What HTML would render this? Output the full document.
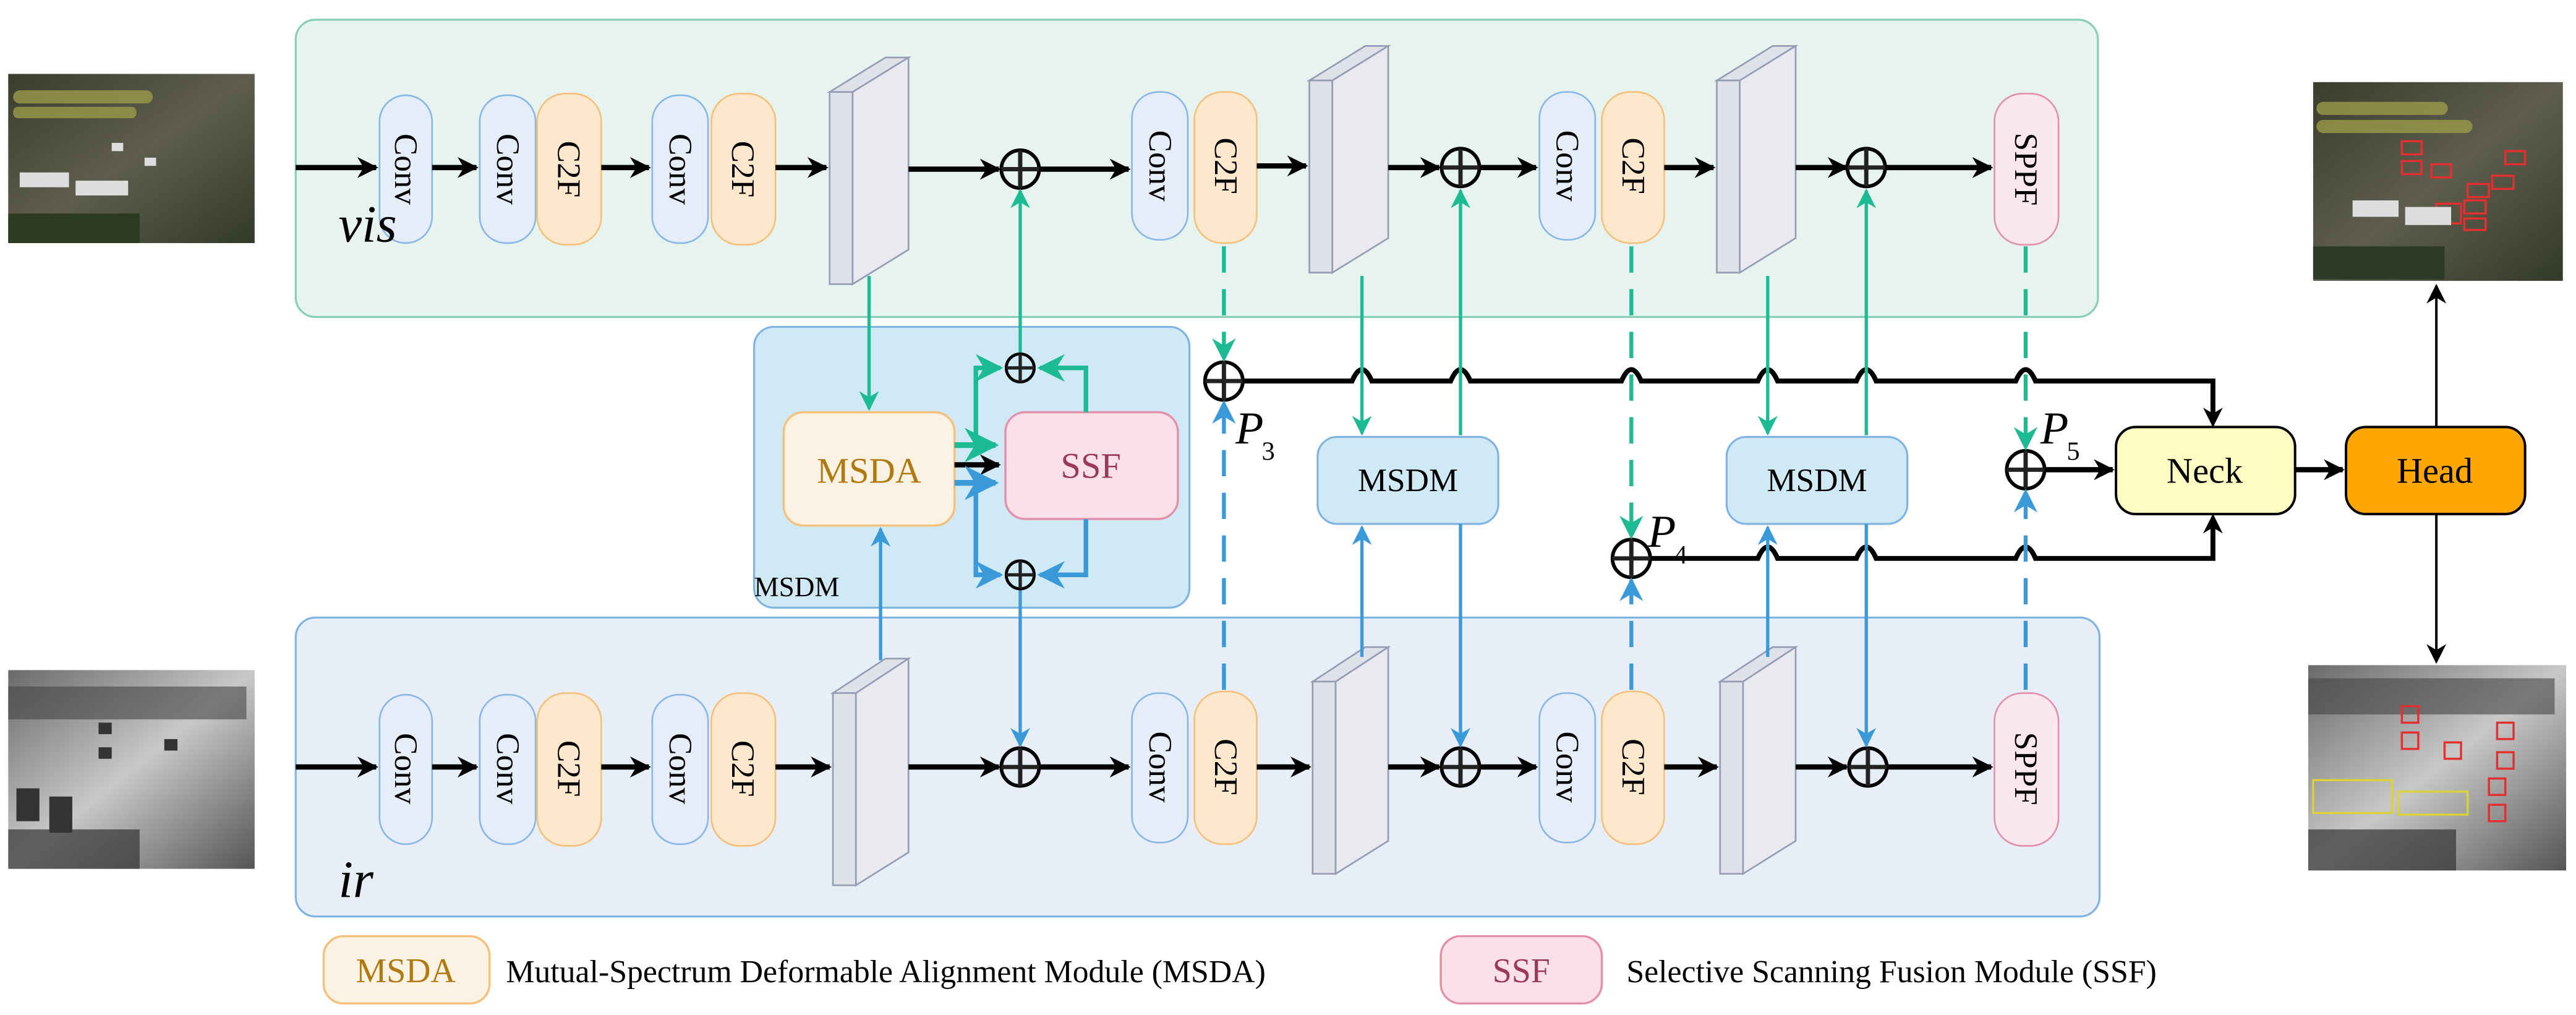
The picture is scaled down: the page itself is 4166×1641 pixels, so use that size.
<!DOCTYPE html>
<html><head><meta charset="utf-8"><style>
html,body{margin:0;padding:0;background:#fff}
svg{display:block}
</style></head><body>
<svg width="4166" height="1641" viewBox="0 0 1568 618" preserveAspectRatio="none" xmlns="http://www.w3.org/2000/svg" font-family="Liberation Serif, serif">
<defs>
<marker id="ab" viewBox="0 0 10 10" refX="9" refY="5" markerWidth="4" markerHeight="4" orient="auto" markerUnits="strokeWidth"><path d="M0,0 L10,5 L0,10 L3,5z" fill="#000"/></marker>
<marker id="abt" viewBox="0 0 10 10" refX="9" refY="5" markerWidth="8" markerHeight="8" orient="auto" markerUnits="strokeWidth"><path d="M0,0 L10,5 L0,10 L3,5z" fill="#000"/></marker>
<marker id="ag" viewBox="0 0 10 10" refX="9" refY="5" markerWidth="6" markerHeight="6" orient="auto" markerUnits="strokeWidth"><path d="M0,0 L10,5 L0,10 L3,5z" fill="#1dbb93"/></marker>
<marker id="abl" viewBox="0 0 10 10" refX="9" refY="5" markerWidth="6" markerHeight="6" orient="auto" markerUnits="strokeWidth"><path d="M0,0 L10,5 L0,10 L3,5z" fill="#3a9ad9"/></marker>
<linearGradient id="night" x1="0" y1="0" x2="1" y2="1"><stop offset="0" stop-color="#3b3c2c"/><stop offset=".5" stop-color="#5e5d4e"/><stop offset="1" stop-color="#333a28"/></linearGradient>
<linearGradient id="irg" x1="0" y1="0" x2="1" y2="1"><stop offset="0" stop-color="#6a6a6a"/><stop offset=".5" stop-color="#c8c8c8"/><stop offset="1" stop-color="#555"/></linearGradient>
<g id="oplus"><circle r="11.5" fill="none" stroke="#000" stroke-width="2.2"/><path d="M-11.5,0H11.5M0,-11.5V11.5" stroke="#222" stroke-width="2.6"/></g>
<g id="oplusS"><circle r="8.5" fill="none" stroke="#000" stroke-width="1.8"/><path d="M-8.5,0H8.5M0,-8.5V8.5" stroke="#222" stroke-width="2"/></g>
</defs>

<rect x="180" y="12" width="1097" height="181" rx="12" fill="#e6f3ef" stroke="#86cfb3" stroke-width="1.2"/>
<rect x="180" y="376" width="1098" height="182" rx="12" fill="#e7eef8" stroke="#7fb3e2" stroke-width="1.2"/>
<rect x="459" y="199" width="265" height="171" rx="12" fill="#cfe9f5" stroke="#7fb3e2" stroke-width="1.2"/>

<!-- images -->
<rect x="5" y="45" width="150" height="103" fill="url(#night)"/>
<g fill="#9b9b4a" opacity=".8"><rect x="8" y="55" width="85" height="8" rx="4"/><rect x="8" y="65" width="75" height="7" rx="3"/></g>
<g fill="#ddd"><rect x="12" y="105" width="30" height="9"/><rect x="46" y="110" width="32" height="9"/><rect x="68" y="87" width="7" height="5"/><rect x="88" y="96" width="7" height="5"/></g>
<rect x="5" y="130" width="80" height="18" fill="#2d3a22"/>
<rect x="1408" y="50" width="152" height="121" fill="url(#night)"/>
<g fill="#9b9b4a" opacity=".8"><rect x="1410" y="62" width="80" height="8" rx="4"/><rect x="1410" y="73" width="95" height="8" rx="4"/></g>
<g fill="none" stroke="#e23030" stroke-width="1.3"><rect x="1462" y="86" width="12" height="8"/><rect x="1462" y="98" width="12" height="8"/><rect x="1480" y="100" width="12" height="8"/><rect x="1517" y="107" width="13" height="8"/><rect x="1502" y="112" width="13" height="8"/><rect x="1500" y="122" width="13" height="8"/><rect x="1500" y="133" width="13" height="7"/><rect x="1525" y="92" width="12" height="8"/><rect x="1483" y="124" width="15" height="12"/></g>
<g fill="#ddd"><rect x="1432" y="122" width="28" height="10"/><rect x="1464" y="126" width="28" height="11"/></g>
<rect x="1408" y="150" width="80" height="20" fill="#2e3b24"/>
<rect x="5" y="408" width="150" height="121" fill="url(#irg)"/>
<rect x="5" y="418" width="145" height="20" fill="#444" opacity=".6"/>
<g fill="#333"><rect x="10" y="480" width="14" height="20"/><rect x="30" y="485" width="14" height="22"/><rect x="60" y="440" width="8" height="7"/><rect x="60" y="455" width="8" height="7"/><rect x="100" y="450" width="8" height="7"/></g>
<rect x="5" y="505" width="80" height="24" fill="#333" opacity=".7"/>
<rect x="1405" y="405" width="157" height="125" fill="url(#irg)"/>
<rect x="1405" y="413" width="150" height="22" fill="#444" opacity=".6"/>
<g fill="none" stroke="#e23030" stroke-width="1.3"><rect x="1462" y="430" width="10" height="10"/><rect x="1462" y="446" width="10" height="10"/><rect x="1488" y="452" width="10" height="10"/><rect x="1520" y="440" width="10" height="10"/><rect x="1520" y="458" width="10" height="10"/><rect x="1515" y="474" width="10" height="10"/><rect x="1515" y="490" width="10" height="10"/></g>
<g fill="none" stroke="#d9d23b" stroke-width="1.3"><rect x="1408" y="475" width="48" height="20"/><rect x="1460" y="482" width="42" height="14"/></g>
<rect x="1405" y="505" width="90" height="25" fill="#333" opacity=".7"/>

<g font-size="20">
<g>
<rect x="231" y="58" width="32" height="90" rx="16" fill="#e5edf8" stroke="#8ab8e6"/>
<rect x="292" y="58" width="34" height="90" rx="16" fill="#e5edf8" stroke="#8ab8e6"/>
<rect x="327" y="57" width="39" height="92" rx="17" fill="#fde8cd" stroke="#f6c07a"/>
<rect x="397" y="58" width="34" height="90" rx="16" fill="#e5edf8" stroke="#8ab8e6"/>
<rect x="433" y="57" width="39" height="92" rx="17" fill="#fde8cd" stroke="#f6c07a"/>
<rect x="689" y="56" width="34" height="90" rx="16" fill="#e5edf8" stroke="#8ab8e6"/>
<rect x="727" y="56" width="38" height="92" rx="17" fill="#fde8cd" stroke="#f6c07a"/>
<rect x="937" y="56" width="34" height="90" rx="16" fill="#e5edf8" stroke="#8ab8e6"/>
<rect x="975" y="56" width="38" height="92" rx="17" fill="#fde8cd" stroke="#f6c07a"/>
<rect x="1214" y="57" width="39" height="92" rx="17" fill="#fbe8ee" stroke="#e390aa"/>
</g>
<g fill="#000">
<text transform="translate(247,103) rotate(90)" text-anchor="middle" dominant-baseline="central">Conv</text>
<text transform="translate(309,103) rotate(90)" text-anchor="middle" dominant-baseline="central">Conv</text>
<text transform="translate(346,103) rotate(90)" text-anchor="middle" dominant-baseline="central">C2F</text>
<text transform="translate(414,103) rotate(90)" text-anchor="middle" dominant-baseline="central">Conv</text>
<text transform="translate(452,103) rotate(90)" text-anchor="middle" dominant-baseline="central">C2F</text>
<text transform="translate(706,101) rotate(90)" text-anchor="middle" dominant-baseline="central">Conv</text>
<text transform="translate(746,101) rotate(90)" text-anchor="middle" dominant-baseline="central">C2F</text>
<text transform="translate(954,101) rotate(90)" text-anchor="middle" dominant-baseline="central">Conv</text>
<text transform="translate(994,101) rotate(90)" text-anchor="middle" dominant-baseline="central">C2F</text>
<text transform="translate(1233,103) rotate(90)" text-anchor="middle" dominant-baseline="central">SPPF</text>
</g>
<g>
<rect x="231" y="423" width="32" height="91" rx="16" fill="#e5edf8" stroke="#8ab8e6"/>
<rect x="292" y="423" width="34" height="91" rx="16" fill="#e5edf8" stroke="#8ab8e6"/>
<rect x="327" y="422" width="39" height="93" rx="17" fill="#fde8cd" stroke="#f6c07a"/>
<rect x="397" y="423" width="34" height="91" rx="16" fill="#e5edf8" stroke="#8ab8e6"/>
<rect x="433" y="422" width="39" height="93" rx="17" fill="#fde8cd" stroke="#f6c07a"/>
<rect x="689" y="422" width="34" height="91" rx="16" fill="#e5edf8" stroke="#8ab8e6"/>
<rect x="727" y="421" width="38" height="93" rx="17" fill="#fde8cd" stroke="#f6c07a"/>
<rect x="937" y="422" width="34" height="91" rx="16" fill="#e5edf8" stroke="#8ab8e6"/>
<rect x="975" y="421" width="38" height="93" rx="17" fill="#fde8cd" stroke="#f6c07a"/>
<rect x="1214" y="422" width="39" height="93" rx="17" fill="#fbe8ee" stroke="#e390aa"/>
</g>
<g fill="#000">
<text transform="translate(247,468) rotate(90)" text-anchor="middle" dominant-baseline="central">Conv</text>
<text transform="translate(309,468) rotate(90)" text-anchor="middle" dominant-baseline="central">Conv</text>
<text transform="translate(346,468) rotate(90)" text-anchor="middle" dominant-baseline="central">C2F</text>
<text transform="translate(414,468) rotate(90)" text-anchor="middle" dominant-baseline="central">Conv</text>
<text transform="translate(452,468) rotate(90)" text-anchor="middle" dominant-baseline="central">C2F</text>
<text transform="translate(706,467) rotate(90)" text-anchor="middle" dominant-baseline="central">Conv</text>
<text transform="translate(746,467) rotate(90)" text-anchor="middle" dominant-baseline="central">C2F</text>
<text transform="translate(954,467) rotate(90)" text-anchor="middle" dominant-baseline="central">Conv</text>
<text transform="translate(994,467) rotate(90)" text-anchor="middle" dominant-baseline="central">C2F</text>
<text transform="translate(1233,468) rotate(90)" text-anchor="middle" dominant-baseline="central">SPPF</text>
</g>
</g>

<g fill="#e8eaef" stroke="#949db3" stroke-width="1">
<path d="M505,56 L539,35 L553,35 L519,56Z" fill="#dfe2e8"/><rect x="505" y="56" width="14" height="117" fill="#dfe2e8"/><path d="M519,56 L553,35 L553,152 L519,173Z"/>
<path d="M797,49 L831,28 L845,28 L811,49Z" fill="#dfe2e8"/><rect x="797" y="49" width="14" height="117" fill="#dfe2e8"/><path d="M811,49 L845,28 L845,145 L811,166Z"/>
<path d="M1045,49 L1079,28 L1093,28 L1059,49Z" fill="#dfe2e8"/><rect x="1045" y="49" width="14" height="117" fill="#dfe2e8"/><path d="M1059,49 L1093,28 L1093,145 L1059,166Z"/>
<path d="M507,422 L539,401 L553,401 L521,422Z" fill="#dfe2e8"/><rect x="507" y="422" width="14" height="117" fill="#dfe2e8"/><path d="M521,422 L553,401 L553,519 L521,539Z"/>
<path d="M799,415 L831,394 L845,394 L813,415Z" fill="#dfe2e8"/><rect x="799" y="415" width="14" height="117" fill="#dfe2e8"/><path d="M813,415 L845,394 L845,512 L813,532Z"/>
<path d="M1047,415 L1079,394 L1093,394 L1061,415Z" fill="#dfe2e8"/><rect x="1047" y="415" width="14" height="117" fill="#dfe2e8"/><path d="M1061,415 L1093,394 L1093,512 L1061,532Z"/>
</g>

<g stroke="#000" stroke-width="3.2" fill="none" marker-end="url(#ab)">
<path d="M180,102 H229"/><path d="M263,102 H290"/><path d="M366,102 H395"/><path d="M472,102 H503"/>
<path d="M553,103 H608"/><path d="M632,103 H687"/><path d="M765,101 H795"/>
<path d="M845,102 H876"/><path d="M900,102 H935"/><path d="M1013,102 H1043"/>
<path d="M1093,102 H1124"/><path d="M1148,102 H1212"/>
<path d="M180,467 H229"/><path d="M263,467 H290"/><path d="M366,467 H395"/><path d="M472,467 H505"/>
<path d="M553,467 H608"/><path d="M632,467 H687"/><path d="M765,467 H797"/>
<path d="M845,467 H876"/><path d="M900,467 H935"/><path d="M1013,467 H1045"/>
<path d="M1093,467 H1124"/><path d="M1148,467 H1212"/>
<path d="M1245,286 H1286"/><path d="M1397,286 H1426"/>
</g>
<use href="#oplus" x="621" y="103"/><use href="#oplus" x="889" y="102"/><use href="#oplus" x="1136" y="102"/>
<use href="#oplus" x="621" y="467"/><use href="#oplus" x="889" y="467"/><use href="#oplus" x="1137" y="467"/>

<g stroke="#000" stroke-width="3" fill="none">
<path d="M756,232 H823 q6,-14 12,0 H883 q6,-14 12,0 H987 q6,-14 12,0 H1070 q6,-14 12,0 H1130 q6,-14 12,0 H1227 q6,-14 12,0 H1347 V256"/>
<path d="M1004,340 H1070 q6,-14 12,0 H1130 q6,-14 12,0 H1227 q6,-14 12,0 H1347 V317"/>
</g>
<g stroke="#000" stroke-width="1.5" fill="none" marker-end="url(#abt)">
<path d="M1347,240 V259"/><path d="M1347,330 V314"/>
<path d="M1483,260 V174"/><path d="M1483,313 V403"/>
</g>
<use href="#oplus" x="745" y="232"/><use href="#oplus" x="993" y="340"/><use href="#oplus" x="1233" y="286"/>
<g font-style="italic" font-size="28" fill="#000">
<text x="752" y="270">P</text><text x="1003" y="333">P</text><text x="1242" y="270">P</text>
</g>
<g font-size="16" fill="#000"><text x="768" y="280">3</text><text x="1019" y="343">4</text><text x="1258" y="280">5</text></g>

<rect x="1288" y="260" width="109" height="53" rx="12" fill="#fefcc0" stroke="#000" stroke-width="1.5"/>
<text x="1342" y="294" text-anchor="middle" font-size="22">Neck</text>
<rect x="1428" y="260" width="109" height="53" rx="12" fill="#fea602" stroke="#000" stroke-width="1.5"/>
<text x="1482" y="294" text-anchor="middle" font-size="22">Head</text>

<rect x="802" y="266" width="110" height="53" rx="12" fill="#cfe9f5" stroke="#7fb3e2" stroke-width="1.2"/>
<text x="857" y="299" text-anchor="middle" font-size="20">MSDM</text>
<rect x="1051" y="266" width="110" height="53" rx="12" fill="#cfe9f5" stroke="#7fb3e2" stroke-width="1.2"/>
<text x="1106" y="299" text-anchor="middle" font-size="20">MSDM</text>

<g stroke="#1dbb93" stroke-width="2" fill="none" marker-end="url(#ag)">
<path d="M829,168 V264"/><path d="M889,265 V116"/>
<path d="M1076,168 V264"/><path d="M1136,265 V116"/>
<path d="M529,168 V249"/><path d="M621,215 V116"/>
</g>
<g stroke="#1dbb93" stroke-width="2.4" fill="none" stroke-dasharray="16,10" marker-end="url(#ag)">
<path d="M745,150 V219"/><path d="M993,150 V327"/><path d="M1233,150 V273"/>
</g>
<g stroke="#3a9ad9" stroke-width="2" fill="none" marker-end="url(#abl)">
<path d="M829,400 V321"/><path d="M889,319 V454"/>
<path d="M1076,400 V321"/><path d="M1136,319 V454"/>
<path d="M536,402 V322"/><path d="M621,359 V454"/>
</g>
<g stroke="#3a9ad9" stroke-width="2.4" fill="none" stroke-dasharray="16,10" marker-end="url(#abl)">
<path d="M745,420 V245"/><path d="M993,420 V353"/><path d="M1233,420 V299"/>
</g>

<rect x="477" y="251" width="104" height="69" rx="12" fill="#fcf2e4" stroke="#f6c07a" stroke-width="1.3"/>
<text x="529" y="294" text-anchor="middle" font-size="22" fill="#b07a10">MSDA</text>
<rect x="612" y="251" width="105" height="65" rx="12" fill="#fce0e7" stroke="#e390aa" stroke-width="1.3"/>
<text x="664" y="291" text-anchor="middle" font-size="22" fill="#9a3a58">SSF</text>
<g stroke="#1dbb93" fill="none">
<path d="M581,271 H606" marker-end="url(#ag)" stroke-width="3.5"/>
<path d="M594,271 V224 H609" stroke-width="2.8" marker-end="url(#ag)"/>
<path d="M661,251 V224 H633" stroke-width="2.8" marker-end="url(#ag)"/>
</g>
<path d="M581,283 H608" stroke="#000" stroke-width="3.2" marker-end="url(#ab)"/>
<g stroke="#3a9ad9" fill="none">
<path d="M581,294 H606" stroke-width="3.5" marker-end="url(#abl)"/>
<path d="M594,294 V350 H609" stroke-width="2.8" marker-end="url(#abl)"/>
<path d="M661,316 V350 H633" stroke-width="2.8" marker-end="url(#abl)"/>
</g>
<use href="#oplusS" x="621" y="224"/><use href="#oplusS" x="621" y="350"/>
<text x="459" y="363" font-size="17">MSDM</text>

<text x="206" y="147" font-size="32" font-style="italic">vis</text>
<text x="206" y="546" font-size="32" font-style="italic">ir</text>

<rect x="197" y="570" width="101" height="41" rx="12" fill="#fcf2e4" stroke="#f6c07a" stroke-width="1.3"/>
<text x="247" y="598" text-anchor="middle" font-size="21" fill="#b07a10">MSDA</text>
<text x="308" y="598" font-size="19.5">Mutual-Spectrum Deformable Alignment Module (MSDA)</text>
<rect x="877" y="570" width="98" height="41" rx="12" fill="#fce0e7" stroke="#e390aa" stroke-width="1.3"/>
<text x="926" y="598" text-anchor="middle" font-size="21" fill="#9a3a58">SSF</text>
<text x="990" y="598" font-size="19.5">Selective Scanning Fusion Module (SSF)</text>
</svg>
</body></html>
